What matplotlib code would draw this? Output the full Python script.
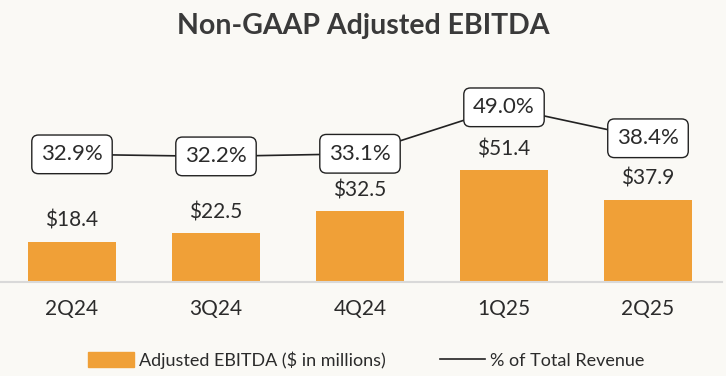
import matplotlib.pyplot as plt
from matplotlib.lines import Line2D
from matplotlib.patches import Patch

quarters = ["2Q24", "3Q24", "4Q24", "1Q25", "2Q25"]
ebitda = [18.4, 22.5, 32.5, 51.4, 37.9]
pct_revenue = [32.9, 32.2, 33.1, 49.0, 38.4]

bg = "#faf9f5"
bar_color = "#f0a037"
text_color = "#2b2b2b"
plt.rcParams["font.family"] = ["Lato", "DejaVu Sans"]

fig = plt.figure(figsize=(7.26, 3.76), dpi=100, facecolor=bg)
ax = fig.add_axes([0.0, 0.25, 722 / 726, 222 / 376])
ax.set_facecolor("none")
x = list(range(len(quarters)))

ax.bar(x, ebitda, width=0.61, color=bar_color, zorder=2)
ax.set_xlim(-0.5, -0.5 + 722 / 144)
ax.set_ylim(0, 102.3)
for xi, v in zip(x, ebitda):
    ax.annotate(f"${v}", (xi, v), xytext=(0, 8), textcoords="offset points",
                ha="center", va="bottom", fontsize=15, color=text_color)

for s in ["top", "right", "left"]:
    ax.spines[s].set_visible(False)
ax.spines["bottom"].set_color("#d9d9d9")
ax.spines["bottom"].set_linewidth(1.5)
ax.set_yticks([])
ax.set_xticks(x)
ax.set_xticklabels(quarters, fontsize=15, color=text_color)
ax.tick_params(axis="x", length=0, pad=12)

ax2 = ax.twinx()
ax2.set_ylim(-10.8, 65.2)
ax2.axis("off")
ax2.plot(x, pct_revenue, color="#222222", linewidth=1.2, zorder=1)
for xi, p in zip(x, pct_revenue):
    ax2.text(xi, p, f"{p:.1f}%", ha="center", va="center", fontsize=16,
             color=text_color, zorder=3,
             bbox=dict(boxstyle="round,pad=0.42,rounding_size=0.3",
                       fc="white", ec="#222222", lw=1.0))

fig.text(0.5, 0.93, "Non-GAAP Adjusted EBITDA", ha="center", va="center",
         fontsize=20.5, fontweight="bold", color="#3a3a3a")

handles = [Patch(color=bar_color, label="Adjusted EBITDA ($ in millions)"),
           Line2D([], [], color="#222222", lw=1.2, label="% of Total Revenue")]
fig.legend(handles=handles, loc="center", bbox_to_anchor=(0.505, 0.042), ncol=2,
           frameon=False, fontsize=13, handlelength=2.5, handleheight=0.9,
           handletextpad=0.3, columnspacing=3.0, labelcolor=text_color)

fig.savefig("out.png", dpi=100, facecolor=bg)
